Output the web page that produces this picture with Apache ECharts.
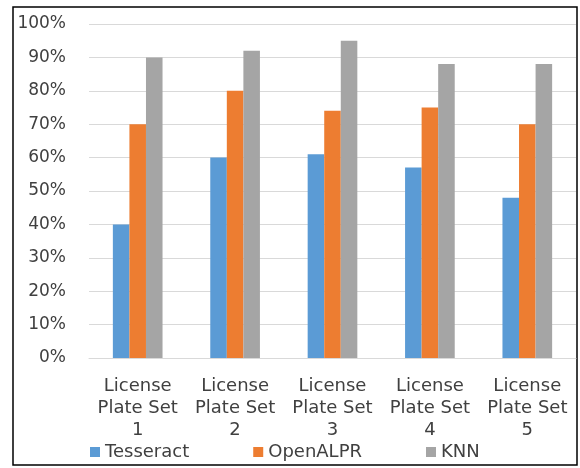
<!DOCTYPE html>
<html>
<head>
<meta charset="utf-8">
<script src="https://cdn.jsdelivr.net/npm/echarts@6/dist/echarts.min.js"></script>
<style>
  html, body { margin: 0; padding: 0; background: #fff; }
  #container { width: 580px; height: 468px; }
</style>
</head>
<body>
<div id="container"></div>
<script>
var categories = ['License\nPlate Set\n1', 'License\nPlate Set\n2', 'License\nPlate Set\n3', 'License\nPlate Set\n4', 'License\nPlate Set\n5'];
var tesseract = [40, 60, 61, 57, 48];
var openAlpr = [70, 80, 74, 75, 70];
var knn = [90, 92, 95, 88, 88];

var textColor = '#404040';
var fontName = 'DejaVu Sans';

var myChart = echarts.init(document.getElementById('container'));

function barSeries(name, data) {
    return {
        name: name,
        type: 'bar',
        data: data,
        barGap: '0%',
        barCategoryGap: '49%',
        emphasis: { disabled: true }
    };
}

myChart.setOption({
    animation: false,
    color: ['#5b9bd5', '#ed7d31', '#a5a5a5'],
    grid: { left: 89, right: 4, top: 24, bottom: 110 },
    legend: {
        left: 85,
        top: 438,
        itemWidth: 10,
        itemHeight: 10,
        itemGap: 64,
        icon: 'rect',
        textStyle: { color: textColor, fontSize: 18, fontFamily: fontName, padding: [0, 0, 0, 0] },
        data: ['Tesseract', 'OpenALPR', 'KNN']
    },
    xAxis: {
        type: 'category',
        data: categories,
        axisLine: { lineStyle: { color: '#d9d9d9' } },
        axisTick: { show: false },
        axisLabel: {
            interval: 0,
            color: textColor,
            fontSize: 18,
            fontFamily: fontName,
            lineHeight: 22,
            margin: 17
        }
    },
    yAxis: {
        type: 'value',
        min: 0,
        max: 100,
        interval: 10,
        axisLabel: {
            color: textColor,
            fontSize: 17,
            fontFamily: fontName,
            margin: 23,
            formatter: '{value}%'
        },
        splitLine: { lineStyle: { color: '#d9d9d9' } }
    },
    series: [
        barSeries('Tesseract', tesseract),
        barSeries('OpenALPR', openAlpr),
        barSeries('KNN', knn)
    ],
    graphic: [{
        type: 'rect',
        shape: { x: 13, y: 7, width: 564, height: 458 },
        style: { fill: 'none', stroke: '#000', lineWidth: 1.5 },
        silent: true
    }]
});
</script>
</body>
</html>
